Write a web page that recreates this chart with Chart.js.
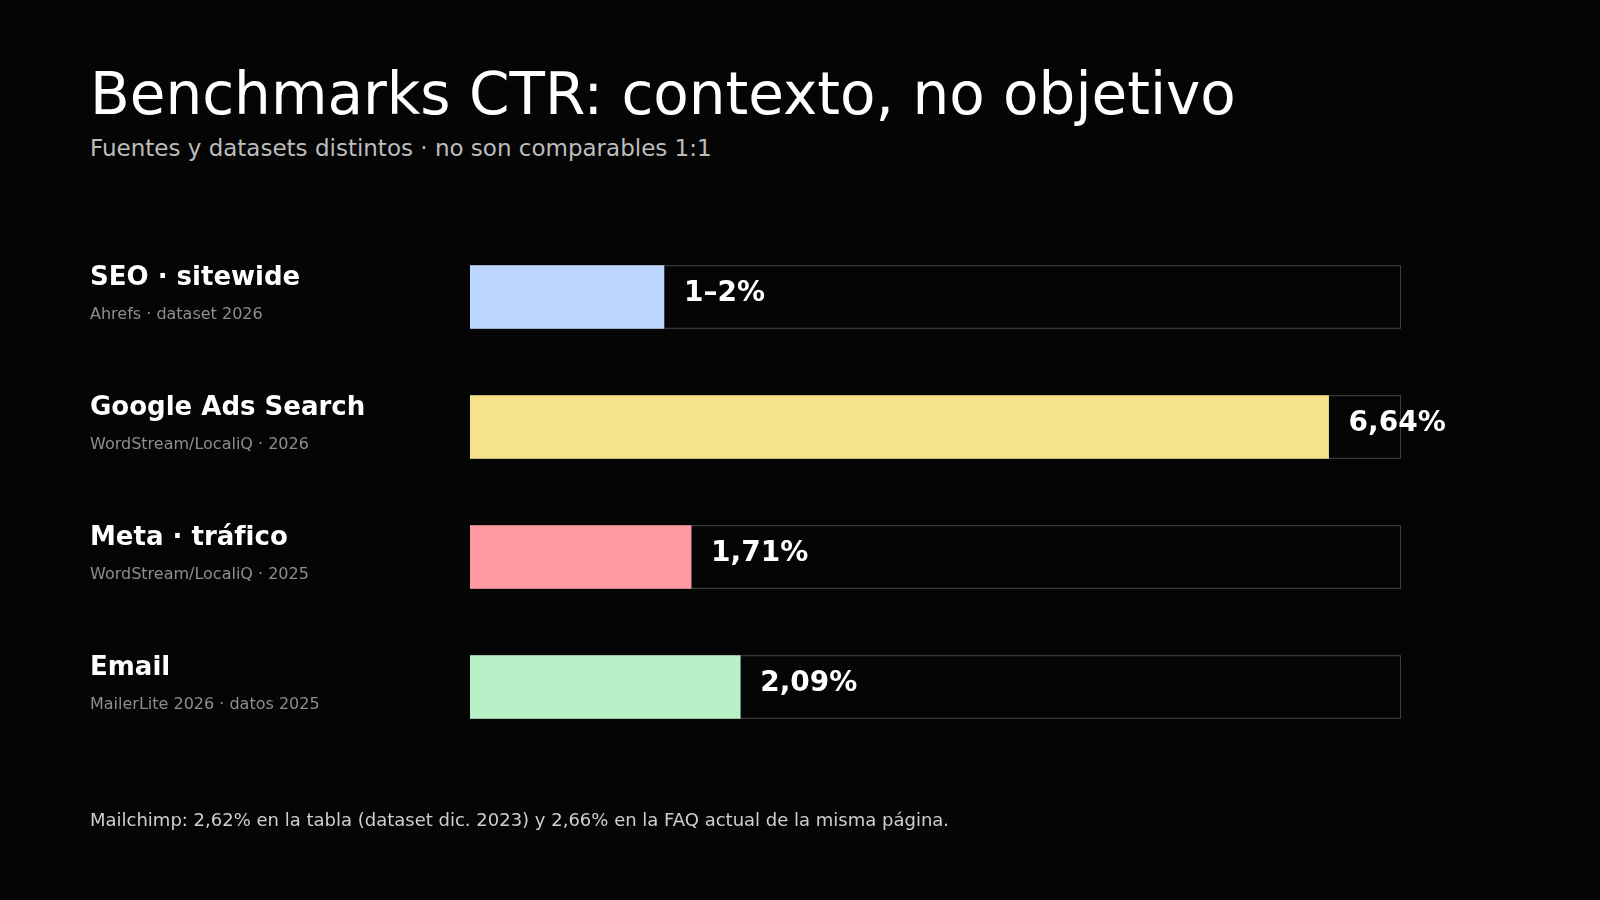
<!DOCTYPE html>
<html lang="es">
<head>
<meta charset="utf-8">
<title>Benchmarks CTR</title>
<script src="https://cdn.jsdelivr.net/npm/chart.js@4"></script>
<style>
  html, body { margin: 0; padding: 0; background: #050505; }
  body { width: 1600px; height: 900px; position: relative; overflow: hidden; font-family: "DejaVu Sans", sans-serif; }
  #titulo { position: absolute; left: 90px; top: 58px; margin: 0; font-size: 58px; font-weight: normal; color: #ffffff; line-height: 72px; white-space: nowrap; }
  #subtitulo { position: absolute; left: 90px; top: 134px; margin: 0; font-size: 23px; color: #bdbdbd; line-height: 28px; white-space: nowrap; }
  #nota { position: absolute; left: 90px; top: 808px; margin: 0; font-size: 18px; color: #cfcfcf; line-height: 24px; white-space: nowrap; }
  #chartCTR { position: absolute; left: 0; top: 0; }
</style>
</head>
<body>
<h1 id="titulo">Benchmarks CTR: contexto, no objetivo</h1>
<p id="subtitulo">Fuentes y datasets distintos · no son comparables 1:1</p>
<canvas id="chartCTR" width="1600" height="900"></canvas>
<p id="nota">Mailchimp: 2,62% en la tabla (dataset dic. 2023) y 2,66% en la FAQ actual de la misma página.</p>

<script>
// Datos del gráfico
const categorias = ['SEO · sitewide', 'Google Ads Search', 'Meta · tráfico', 'Email'];
const fuentes = ['Ahrefs · dataset 2026', 'WordStream/LocaliQ · 2026', 'WordStream/LocaliQ · 2025', 'MailerLite 2026 · datos 2025'];
const ctr = [1.5, 6.64, 1.71, 2.09]; // SEO es un rango 1–2%, se dibuja en el punto medio
const etiquetasValor = ['1–2%', '6,64%', '1,71%', '2,09%'];
const escalaMax = 7.2;

const colores = ['#bbd7fe', '#f5e28a', '#ff9aa2', '#b9f0c7'];

// Etiquetas de la izquierda y valores al final de cada barra
const etiquetasPlugin = {
  id: 'etiquetas',
  afterDatasetsDraw(chart) {
    const c = chart.ctx;
    const y = chart.scales.y;
    const x = chart.scales.x;
    c.save();
    c.textBaseline = 'alphabetic';
    categorias.forEach((cat, i) => {
      const cy = y.getPixelForValue(i);
      c.textAlign = 'left';
      c.fillStyle = '#ffffff';
      c.font = 'bold 26px "DejaVu Sans"';
      c.fillText(cat, 90, cy - 12);
      c.fillStyle = '#8e8e8e';
      c.font = '16px "DejaVu Sans"';
      c.fillText(fuentes[i], 90, cy + 22);
      c.fillStyle = '#ffffff';
      c.font = 'bold 28px "DejaVu Sans"';
      c.fillText(etiquetasValor[i], x.getPixelForValue(ctr[i]) + 20, cy + 4);
    });
    c.restore();
  }
};

const ctx = document.getElementById('chartCTR').getContext('2d');
const chart = new Chart(ctx, {
  type: 'bar',
  data: {
    labels: categorias,
    datasets: [
      {
        label: 'CTR',
        data: ctr,
        backgroundColor: colores,
        borderWidth: 0,
        grouped: false,
        order: 1
      },
      {
        label: 'Escala',
        data: categorias.map(() => escalaMax),
        backgroundColor: '#050505',
        borderColor: '#5c5c5c',
        borderWidth: 1,
        grouped: false,
        order: 2
      }
    ]
  },
  options: {
    indexAxis: 'y',
    responsive: false,
    devicePixelRatio: 1,
    animation: false,
    layout: { padding: { left: 470, right: 199, top: 232, bottom: 148 } },
    datasets: { bar: { barThickness: 63 } },
    plugins: {
      legend: { display: false },
      tooltip: { enabled: false }
    },
    scales: {
      x: { min: 0, max: escalaMax, display: false },
      y: { display: false }
    }
  },
  plugins: [etiquetasPlugin]
});
</script>
</body>
</html>
